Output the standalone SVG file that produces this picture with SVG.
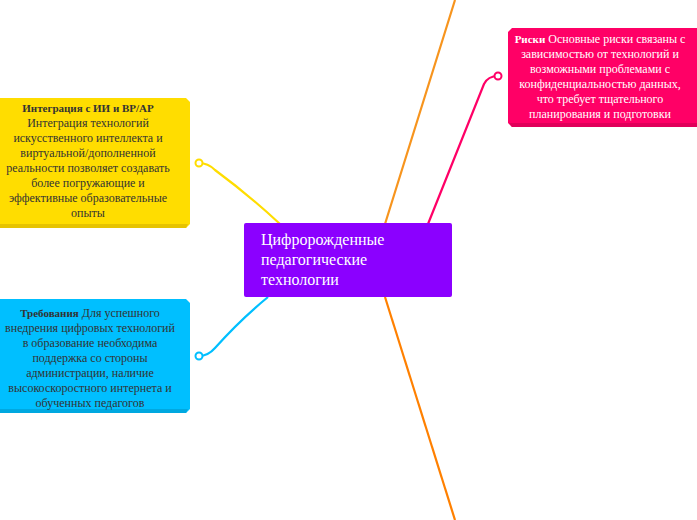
<svg xmlns="http://www.w3.org/2000/svg" width="697" height="520" viewBox="0 0 697 520">
<style>
.t{font-family:"Liberation Serif",serif;font-size:12px;text-anchor:middle;fill:#333}
.b{font-weight:bold;font-size:11px}
.w{fill:#fff}
.c{fill:none;stroke-width:2.2}
.d{fill:#fff;stroke-width:2}
</style>
<rect width="697" height="520" fill="#fff"/>
<g id="connectors">
<path class="c" stroke="#f7941d" d="M385,224 L455,0"/>
<path class="c" stroke="#ff8000" d="M385,297 L455,520"/>
<path class="c" stroke="#ff0066" d="M428,224 L484,84 Q488,76 498,76"/>
<path class="c" stroke="#ffdd00" d="M280,224 Q250,196 215,170 Q208,163 199,163"/>
<path class="c" stroke="#00bfff" d="M268,297 Q240,320 215,348 Q208,356 199,356"/>
<circle class="d" stroke="#ffdd00" cx="199" cy="163" r="3.5"/>
<circle class="d" stroke="#00bfff" cx="199" cy="356" r="3.5"/>
<circle class="d" stroke="#ff0066" cx="498" cy="76" r="3.5"/>
</g>
<g id="center">
<rect x="244" y="223" width="208" height="74" rx="2" fill="#8b00ff"/>
<text font-family="Liberation Serif,serif" font-size="16" fill="#fff"><tspan x="261" y="245">Цифророжденные</tspan><tspan x="261" y="265">педагогические</tspan><tspan x="261" y="285">технологии</tspan></text>
</g>
<g id="integration">
<path d="M0,98 H186 L190,102 V224 L186,228 H0 Z" fill="#ffdd00"/>
<path d="M0,224 H188 L186,228 H0 Z" fill="#e6c300"/>
<text class="t"><tspan x="88" y="112" class="b">Интеграция с ИИ и ВР/АР</tspan><tspan x="88" y="127">Интеграция технологий</tspan><tspan x="88" y="142">искусственного интеллекта и</tspan><tspan x="88" y="157">виртуальной/дополненной</tspan><tspan x="88" y="172">реальности позволяет создавать</tspan><tspan x="88" y="187">более погружающие и</tspan><tspan x="88" y="202">эффективные образовательные</tspan><tspan x="88" y="217">опыты</tspan></text>
</g>
<g id="requirements">
<path d="M0,299 H186 L190,303 V409 L186,413 H0 Z" fill="#00bfff"/>
<path d="M0,409 H188 L186,413 H0 Z" fill="#00a8e0"/>
<text class="t"><tspan x="90" y="317"><tspan class="b">Требования</tspan> Для успешного</tspan><tspan x="90" y="332">внедрения цифровых технологий</tspan><tspan x="90" y="347">в образование необходима</tspan><tspan x="90" y="362">поддержка со стороны</tspan><tspan x="90" y="377">администрации, наличие</tspan><tspan x="90" y="392">высокоскоростного интернета и</tspan><tspan x="90" y="407">обученных педагогов</tspan></text>
</g>
<g id="risks">
<path d="M512,28 H697 V127 H512 L508,123 V32 Z" fill="#ff0066"/>
<path d="M509,123 H697 V127 H512 Z" fill="#e0005a"/>
<text class="t w"><tspan x="600" y="43"><tspan class="b">Риски</tspan> Основные риски связаны с</tspan><tspan x="600" y="58">зависимостью от технологий и</tspan><tspan x="600" y="73">возможными проблемами с</tspan><tspan x="600" y="88">конфиденциальностью данных,</tspan><tspan x="600" y="103">что требует тщательного</tspan><tspan x="600" y="118">планирования и подготовки</tspan></text>
</g>
</svg>
